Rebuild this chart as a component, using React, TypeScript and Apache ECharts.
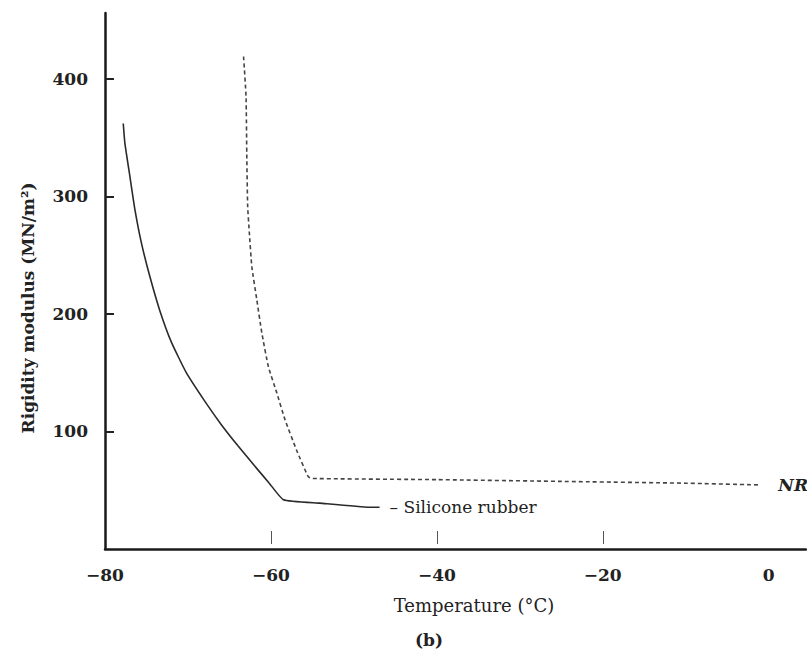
import React, { useEffect, useRef } from "react";
import * as echarts from "echarts";

const siliconeRubber: [number, number][] = [
  [-77.8, 362], [-77.6, 345], [-77.0, 317], [-76.4, 289], [-75.6, 260],
  [-74.6, 232], [-73.4, 203], [-72.0, 176], [-70.2, 150], [-68.0, 126],
  [-66.0, 106], [-64.0, 88], [-62.0, 71], [-60.2, 56], [-58.5, 42],
  [-54.1, 39], [-48.1, 35.5], [-46.9, 35.5],
];

const naturalRubber: [number, number][] = [
  [-63.3, 419], [-63.0, 385], [-62.9, 330], [-62.8, 291], [-62.6, 269],
  [-62.3, 240], [-61.7, 212], [-61.1, 184], [-60.3, 155], [-59.3, 133],
  [-58.3, 110], [-56.9, 84], [-55.5, 61.5], [-55.0, 60], [-40, 59],
  [-25, 57.5], [-10, 56], [-1, 54.5],
];

const xTickLabels = [-80, -60, -40, -20, 0];
const xTickMarks = [-60, -40, -20];
const yTickValues = [100, 200, 300, 400];

const SERIF = "'DejaVu Serif', 'Liberation Serif', serif";

export default function App() {
  const ref = useRef<HTMLDivElement>(null);
  useEffect(() => {
    if (!ref.current) return;
    const chart = echarts.init(ref.current, undefined, { renderer: "svg" });
    const fmtX = (v: number) => (v < 0 ? "\u2212" + Math.abs(v) : String(v));
    chart.setOption({
      animation: false,
      backgroundColor: "#ffffff",
      grid: { left: 105, right: 1, top: 13, bottom: 104, containLabel: false },
      xAxis: [
        {
          type: "value",
          min: -80,
          max: 4.5,
          axisLine: { show: true, onZero: false, lineStyle: { color: "#1a1a1a", width: 2.5 } },
          axisTick: { show: false },
          splitLine: { show: false },
          axisLabel: {
            customValues: xTickLabels,
            formatter: fmtX,
            margin: 17,
            fontFamily: SERIF,
            fontWeight: "bold",
            fontSize: 17,
            color: "#222",
          },
        },
        {
          type: "value",
          min: -80,
          max: 4.5,
          position: "bottom",
          offset: -5,
          axisLine: { show: false, onZero: false },
          axisLabel: { show: false },
          splitLine: { show: false },
          axisTick: {
            show: true,
            inside: true,
            length: 13,
            customValues: xTickMarks,
            lineStyle: { color: "#555", width: 1 },
          },
        },
      ],
      yAxis: {
        type: "value",
        min: 0,
        max: 456,
        axisLine: { show: true, onZero: false, lineStyle: { color: "#1a1a1a", width: 2.5 } },
        axisTick: {
          show: true,
          inside: true,
          length: 9,
          customValues: yTickValues,
          lineStyle: { color: "#222", width: 2 },
        },
        splitLine: { show: false },
        axisLabel: {
          customValues: yTickValues,
          margin: 17,
          fontFamily: SERIF,
          fontWeight: "bold",
          fontSize: 17,
          color: "#222",
        },
      },
      series: [
        {
          name: "Silicone rubber",
          type: "line",
          xAxisIndex: 0,
          data: siliconeRubber,
          showSymbol: false,
          smooth: 0.15,
          lineStyle: { color: "#2a2a2a", width: 1.6 },
          endLabel: {
            show: true,
            formatter: "\u2013 Silicone rubber",
            distance: 10,
            fontFamily: SERIF,
            fontSize: 17,
            color: "#222",
          },
        },
        {
          name: "NR",
          type: "line",
          xAxisIndex: 0,
          data: naturalRubber,
          showSymbol: false,
          smooth: 0.15,
          lineStyle: { color: "#444", width: 1.6, type: [4, 3] },
          endLabel: {
            show: true,
            formatter: "NR",
            distance: 18,
            fontFamily: SERIF,
            fontStyle: "italic",
            fontWeight: "bold",
            fontSize: 17,
            color: "#222",
          },
        },
      ],
      graphic: [
        {
          type: "text",
          x: 28,
          y: 308,
          rotation: Math.PI / 2,
          style: {
            text: "Rigidity modulus (MN/m\u00b2)",
            fontFamily: SERIF,
            fontWeight: "bold",
            fontSize: 17,
            fill: "#222",
            align: "center",
            verticalAlign: "middle",
          },
        },
        {
          type: "text",
          x: 474,
          y: 605,
          style: {
            text: "Temperature (\u00b0C)",
            fontFamily: SERIF,
            fontSize: 18,
            fill: "#222",
            align: "center",
            verticalAlign: "middle",
          },
        },
        {
          type: "text",
          x: 429,
          y: 640,
          style: {
            text: "(b)",
            fontFamily: SERIF,
            fontWeight: "bold",
            fontSize: 17,
            fill: "#222",
            align: "center",
            verticalAlign: "middle",
          },
        },
      ],
    });
    return () => chart.dispose();
  }, []);
  return (
    <div
      ref={ref}
      style={{ position: "absolute", left: 0, top: 0, width: 807, height: 653 }}
    />
  );
}
